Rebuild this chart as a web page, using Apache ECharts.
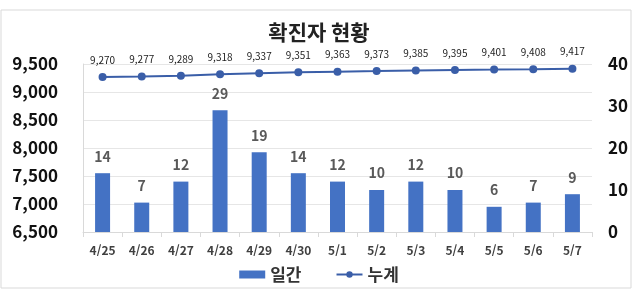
<!DOCTYPE html>
<html lang="ko" style="height: 100%">
<head>
    <meta charset="utf-8">
    <title>확진자 현황</title>
</head>
<body style="height: 100%; margin: 0; background: #fff">
<div id="container" style="width: 638px; height: 295px"></div>
<script src="https://cdn.jsdelivr.net/npm/echarts@6/dist/echarts.min.js"></script>
<script>
    var dates = ['4/25', '4/26', '4/27', '4/28', '4/29', '4/30', '5/1', '5/2', '5/3', '5/4', '5/5', '5/6', '5/7'];
    var daily = [14, 7, 12, 29, 19, 14, 12, 10, 12, 10, 6, 7, 9];
    var total = [9270, 9277, 9289, 9318, 9337, 9351, 9363, 9373, 9385, 9395, 9401, 9408, 9417];

    var FONT = '"Noto Sans CJK KR", "Noto Sans", sans-serif';
    var myChart = echarts.init(document.getElementById('container'), null, {renderer: 'canvas'});

    function comma(v) {
        return Number(v).toLocaleString('en-US');
    }

    var option = {
        animation: false,
        textStyle: {fontFamily: FONT},
        graphic: [{
            type: 'rect',
            shape: {x: 1, y: 10, width: 630, height: 278},
            style: {fill: 'none', stroke: '#d9d9d9', lineWidth: 1},
            silent: true
        }],
        title: {
            text: '확진자 현황',
            left: 'center',
            top: 17,
            textStyle: {fontFamily: FONT, fontSize: 21, fontWeight: 'bold', color: '#222'}
        },
        legend: {
            bottom: 7,
            left: 'center',
            itemWidth: 26,
            itemHeight: 8,
            itemGap: 34,
            textStyle: {fontFamily: FONT, fontSize: 17, fontWeight: 'bold', color: '#333'},
            data: [{name: '일간', icon: 'rect'}, {name: '누계'}]
        },
        grid: {left: 83, right: 46, top: 64, bottom: 63},
        xAxis: {
            type: 'category',
            data: dates,
            axisLine: {lineStyle: {color: '#d9d9d9'}},
            axisTick: {show: true, length: 5, lineStyle: {color: '#d9d9d9'}},
            axisLabel: {fontFamily: FONT, fontSize: 12, fontWeight: 'bold', color: '#404040', margin: 12}
        },
        yAxis: [{
            type: 'value',
            min: 6500,
            max: 9500,
            interval: 500,
            axisLine: {show: true, lineStyle: {color: '#d9d9d9'}},
            splitLine: {lineStyle: {color: '#e6e6e6'}},
            axisLabel: {
                fontFamily: FONT, fontSize: 17, fontWeight: 'bold', color: '#111', margin: 25,
                formatter: comma
            }
        }, {
            type: 'value',
            min: 0,
            max: 40,
            interval: 10,
            splitLine: {show: false},
            axisLabel: {fontFamily: FONT, fontSize: 17, fontWeight: 'bold', color: '#111', margin: 16}
        }],
        series: [{
            name: '일간',
            type: 'bar',
            yAxisIndex: 1,
            data: daily,
            barWidth: 15,
            itemStyle: {color: '#4472c4'},
            label: {
                show: true,
                position: 'top',
                distance: 10,
                fontFamily: FONT,
                fontSize: 14,
                fontWeight: 'bold',
                color: '#595959'
            }
        }, {
            name: '누계',
            type: 'line',
            yAxisIndex: 0,
            data: total,
            symbol: 'circle',
            symbolSize: 8,
            lineStyle: {color: '#3a5ea8', width: 2},
            itemStyle: {color: '#3a5ea8'},
            label: {
                show: true,
                position: 'top',
                distance: 8,
                fontFamily: FONT,
                fontSize: 10,
                color: '#222',
                formatter: function (p) { return comma(p.value); }
            }
        }]
    };

    myChart.setOption(option);
    window.addEventListener('resize', myChart.resize);
</script>
</body>
</html>
